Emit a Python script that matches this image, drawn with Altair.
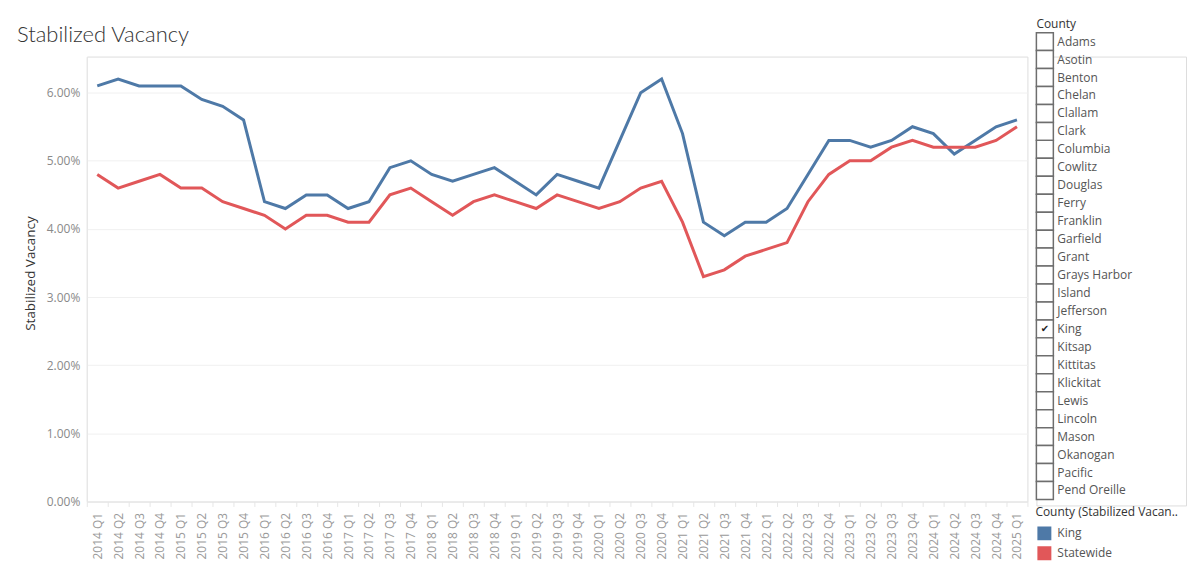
import altair as alt
import pandas as pd

quarters = [
    "2014 Q1", "2014 Q2", "2014 Q3", "2014 Q4",
    "2015 Q1", "2015 Q2", "2015 Q3", "2015 Q4",
    "2016 Q1", "2016 Q2", "2016 Q3", "2016 Q4",
    "2017 Q1", "2017 Q2", "2017 Q3", "2017 Q4",
    "2018 Q1", "2018 Q2", "2018 Q3", "2018 Q4",
    "2019 Q1", "2019 Q2", "2019 Q3", "2019 Q4",
    "2020 Q1", "2020 Q2", "2020 Q3", "2020 Q4",
    "2021 Q1", "2021 Q2", "2021 Q3", "2021 Q4",
    "2022 Q1", "2022 Q2", "2022 Q3", "2022 Q4",
    "2023 Q1", "2023 Q2", "2023 Q3", "2023 Q4",
    "2024 Q1", "2024 Q2", "2024 Q3", "2024 Q4",
    "2025 Q1",
]

king = [6.1, 6.2, 6.1, 6.1, 6.1, 5.9, 5.8, 5.6, 4.4, 4.3, 4.5, 4.5,
        4.3, 4.4, 4.9, 5.0, 4.8, 4.7, 4.8, 4.9, 4.7, 4.5, 4.8, 4.7,
        4.6, 5.3, 6.0, 6.2, 5.4, 4.1, 3.9, 4.1, 4.1, 4.3, 4.8, 5.3,
        5.3, 5.2, 5.3, 5.5, 5.4, 5.1, 5.3, 5.5, 5.6]

statewide = [4.8, 4.6, 4.7, 4.8, 4.6, 4.6, 4.4, 4.3, 4.2, 4.0, 4.2, 4.2,
             4.1, 4.1, 4.5, 4.6, 4.4, 4.2, 4.4, 4.5, 4.4, 4.3, 4.5, 4.4,
             4.3, 4.4, 4.6, 4.7, 4.1, 3.3, 3.4, 3.6, 3.7, 3.8, 4.4, 4.8,
             5.0, 5.0, 5.2, 5.3, 5.2, 5.2, 5.2, 5.3, 5.5]

series_names = ["King", "Statewide"]
series_colors = ["#4e79a7", "#e15759"]

counties = ["Adams", "Asotin", "Benton", "Chelan", "Clallam", "Clark",
            "Columbia", "Cowlitz", "Douglas", "Ferry", "Franklin",
            "Garfield", "Grant", "Grays Harbor", "Island", "Jefferson",
            "King", "Kitsap", "Kittitas", "Klickitat", "Lewis", "Lincoln",
            "Mason", "Okanogan", "Pacific", "Pend Oreille"]
selected_county = "King"

TITLE_FONT = "Lato"
FONT = "Open Sans"

df = pd.DataFrame({
    "Quarter": quarters * 2,
    "County": ["King"] * len(king) + ["Statewide"] * len(statewide),
    "Vacancy": [v / 100 for v in king + statewide],
})

main = alt.Chart(df, title=alt.TitleParams(
    "Stabilized Vacancy", anchor="start", frame="group", dx=-70,
    fontSize=22, fontWeight=300, color="#333333", font=TITLE_FONT, offset=10,
)).mark_line(strokeWidth=3).encode(
    x=alt.X("Quarter:O", sort=quarters,
            scale=alt.Scale(type="band", paddingInner=0, paddingOuter=0),
            axis=alt.Axis(title=None, labelAngle=-90, labelColor="#9a9a9a",
                          labelFontSize=12, labelPadding=6, tickBand="extent",
                          tickColor="#e6e6e6", tickSize=5, domainColor="#e6e6e6",
                          grid=False, labelFont=FONT)),
    y=alt.Y("Vacancy:Q",
            scale=alt.Scale(domain=[0, 0.0653], nice=False, zero=True),
            axis=alt.Axis(title="Stabilized Vacancy", titleFontSize=13.5,
                          titleColor="#333333", titleFontWeight="normal",
                          titlePadding=9, titleFont=FONT, titleY=217,
                          format=".2%", values=[0, 0.01, 0.02, 0.03, 0.04, 0.05, 0.06],
                          labelColor="#8a8a8a", labelFontSize=12, labelFont=FONT,
                          tickSize=0, labelPadding=7, gridColor="#f0f0f0",
                          domainColor="#e8e8e8")),
    color=alt.Color("County:N",
                    scale=alt.Scale(domain=series_names, range=series_colors),
                    legend=alt.Legend(
                        title="County (Stabilized Vacan..", orient="none",
                        legendX=951, legendY=452, titleFontSize=12,
                        titleFontWeight="normal", titleColor="#333333",
                        titleFont=FONT, labelFont=FONT,
                        labelFontSize=12, labelColor="#555555",
                        symbolType="square", symbolSize=49,
                        symbolStrokeWidth=7, symbolOpacity=1, rowPadding=0,
                        clipHeight=20,
                        titlePadding=4, labelOffset=6, padding=0,
                        symbolOffset=2)),
).properties(width=943, height=446)

# ---- County filter panel ----
rows = pd.DataFrame({"County": counties})
rows["t"] = list(range(len(counties)))
rows["t2"] = rows["t"] + 1
rows["tm"] = rows["t"] + 0.5
rows["check"] = ["✔" if c == selected_county else "" for c in counties]

PANEL_H = 450
t_top = (55 - 31) / 18
t_bot = (55 + PANEL_H - 31) / 18
yscale = alt.Scale(domain=[t_top, t_bot], reverse=True, nice=False, zero=False)

base = alt.Chart(rows)
boxes = base.mark_rect(fill="white", stroke="#6e6e6e", strokeWidth=1.5).encode(
    y=alt.Y("t:Q", scale=yscale, axis=None), y2="t2:Q",
    x=alt.value(0), x2=alt.value(17),
)
names = base.mark_text(align="left", baseline="middle", fontSize=12,
                       color="#555555", font=FONT).encode(
    y=alt.Y("tm:Q", scale=yscale, axis=None), x=alt.value(21), text="County:N",
)
checks = base.mark_text(align="center", baseline="middle", fontSize=10,
                        color="#222222", font="DejaVu Sans").encode(
    y=alt.Y("tm:Q", scale=yscale, axis=None), x=alt.value(8.5), text="check:N",
)
header = alt.Chart(pd.DataFrame({"label": ["County"], "t": [(22 - 31) / 18]})).mark_text(
    align="left", baseline="middle", fontSize=12, color="#333333", font=FONT
).encode(y=alt.Y("t:Q", scale=yscale, axis=None), x=alt.value(0), text="label:N")

panel = alt.layer(boxes, names, checks, header).properties(width=150, height=PANEL_H)

chart = alt.hconcat(main, panel, spacing=9, bounds="flush").properties(
    padding={"left": 8, "top": 8, "right": 4, "bottom": 4}
).configure_view(stroke=None).configure(font=FONT)

chart.save("out.html", embed_options={"renderer": "svg", "actions": False})
